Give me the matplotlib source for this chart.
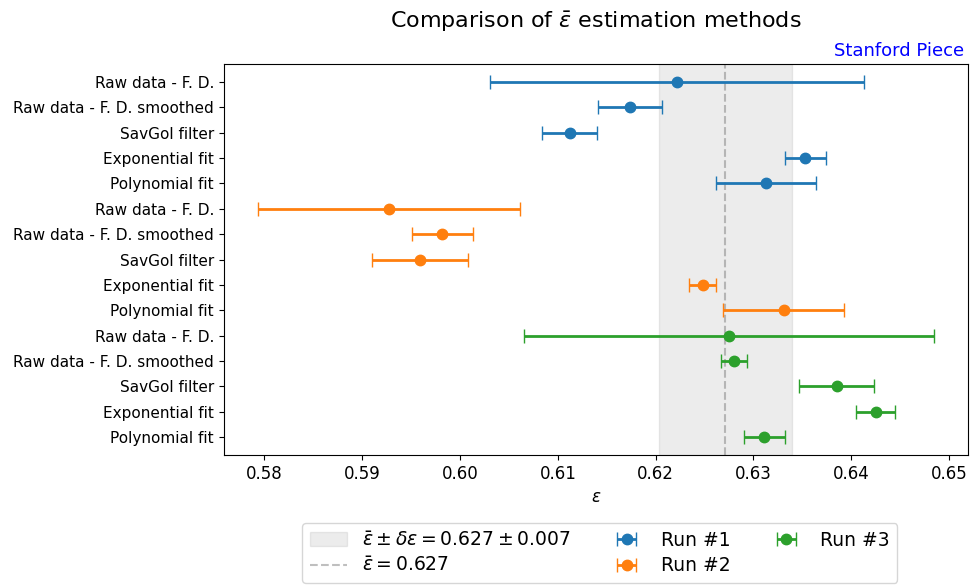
import matplotlib
matplotlib.use("Agg")
import matplotlib.pyplot as plt
import numpy as np

# methods per run (top to bottom)
methods = ["Raw data - F. D.", "Raw data - F. D. smoothed", "SavGol filter",
           "Exponential fit", "Polynomial fit"]

# epsilon estimates and uncertainties per run
run1_val = [0.6222, 0.6174, 0.6112, 0.6353, 0.6313]
run1_err = [0.0191, 0.0033, 0.0028, 0.0021, 0.0051]
run2_val = [0.5927, 0.5982, 0.5959, 0.6248, 0.6331]
run2_err = [0.0134, 0.0031, 0.0049, 0.0014, 0.0062]
run3_val = [0.6275, 0.6280, 0.6385, 0.6425, 0.6311]
run3_err = [0.0210, 0.0013, 0.0038, 0.0020, 0.0021]

eps_bar = 0.6271
delta_eps = 0.0068

fig = plt.figure(figsize=(9.73, 5.85), dpi=100)
ax = fig.add_subplot(111)
fig.subplots_adjust(left=0.230, right=0.995, top=0.8906, bottom=0.2222)

ax.axvspan(eps_bar - delta_eps, eps_bar + delta_eps, color="gray", alpha=0.15,
           label=r"$\bar{\varepsilon} \pm \delta\varepsilon = %.3f \pm %.3f$" % (eps_bar, delta_eps))
ax.axvline(eps_bar, color="gray", ls="--", alpha=0.5,
           label=r"$\bar{\varepsilon} = %.3f$" % eps_bar)

runs = [(run1_val, run1_err), (run2_val, run2_err), (run3_val, run3_err)]
labels = []
for i, (v, e) in enumerate(runs):
    y = np.arange(len(methods)) + i * len(methods)
    ax.errorbar(v, y, xerr=e, fmt="o", capsize=5, elinewidth=2, markersize=7.5,
                label="Run #%d" % (i + 1))
    labels += methods

ax.set_yticks(np.arange(len(labels)))
ax.set_yticklabels(labels, fontsize=11)
ax.invert_yaxis()
ax.tick_params(axis="x", labelsize=12)
ax.set_xlabel(r"$\varepsilon$", fontsize=12)
ax.set_title(r"Comparison of $\bar{\varepsilon}$ estimation methods", fontsize=16, pad=26)
ax.text(0.995, 1.01, "Stanford Piece", color="blue", fontsize=13,
        ha="right", va="bottom", transform=ax.transAxes)

ax.legend(loc="upper center", bbox_to_anchor=(0.505, -0.15), ncol=3, fontsize=13.5,
          labelspacing=0.35)

fig.savefig("out.png", dpi=100)
